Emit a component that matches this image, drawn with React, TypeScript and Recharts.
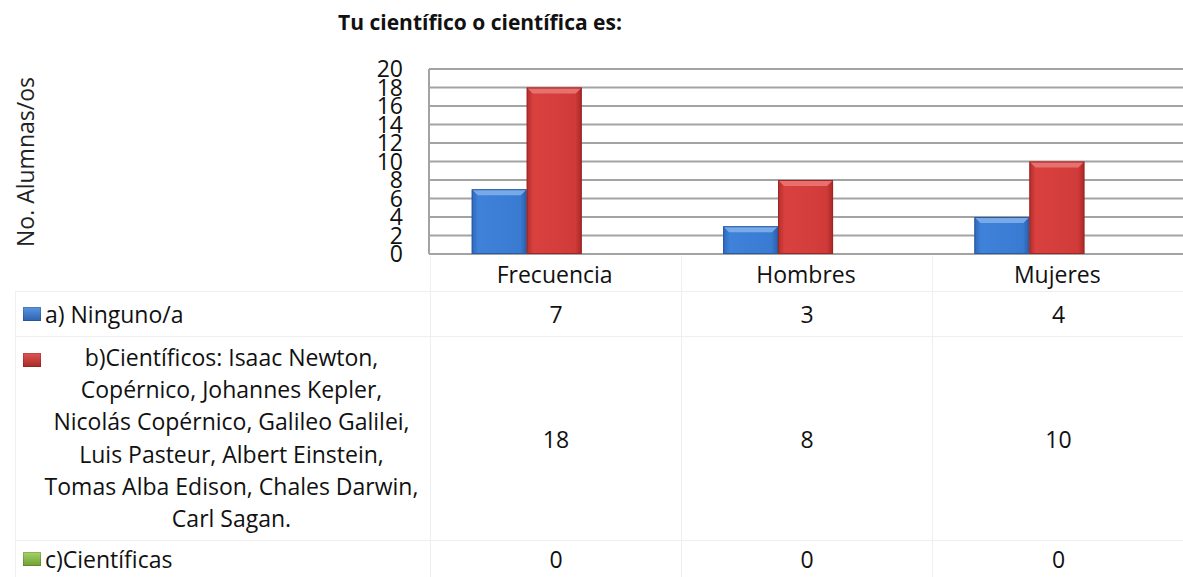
import React from 'react';
import { BarChart, Bar, XAxis, YAxis, CartesianGrid } from 'recharts';

document.body.style.margin = '0';

// data
const categories = ['Frecuencia', 'Hombres', 'Mujeres'];
const ninguno = [7, 3, 4];
const cientificos = [18, 8, 10];
const cientificas = [0, 0, 0];
const yTicks = [0, 2, 4, 6, 8, 10, 12, 14, 16, 18, 20];

const labelA = 'a) Ninguno/a';
const labelB = [
  'b)Científicos: Isaac Newton,',
  'Copérnico, Johannes Kepler,',
  'Nicolás Copérnico, Galileo Galilei,',
  'Luis Pasteur, Albert Einstein,',
  'Tomas Alba Edison, Chales Darwin,',
  'Carl Sagan.',
];
const labelC = 'c)Científicas';

const data = categories.map((name, i) => ({
  name,
  a: ninguno[i],
  b: cientificos[i],
  c: cientificas[i],
}));

const FONT = '"Open Sans", sans-serif';

const BevelBar = (props: any) => {
  const { x, y, width, height, gradId, light, dark } = props;
  if (!height || height <= 0) return null;
  const b = Math.min(6, height / 2);
  return (
    <g>
      <rect x={x} y={y} width={width} height={height} fill={`url(#${gradId})`} />
      <polygon
        points={`${x},${y} ${x + width},${y} ${x + width - b},${y + b} ${x + b},${y + b}`}
        fill={light}
      />
      <rect x={x + 0.5} y={y + 0.5} width={width - 1} height={height - 1} fill="none" stroke={dark} strokeWidth={1} />
    </g>
  );
};

const Key = ({ from, to }: { from: string; to: string }) => (
  <div
    style={{
      width: 18,
      height: 14,
      flex: '0 0 18px',
      background: `linear-gradient(180deg, ${from} 0%, ${to} 100%)`,
      boxShadow: 'inset 0 0 0 1px rgba(0,0,0,0.15)',
    }}
  />
);

const cell: React.CSSProperties = {
  background: '#fff',
  display: 'flex',
  alignItems: 'center',
  justifyContent: 'center',
  fontSize: 23,
  color: '#111',
};

export default function App() {
  return (
    <div style={{ position: 'relative', width: 1183, height: 577, background: '#fff', fontFamily: FONT, overflow: 'hidden' }}>
      <div
        style={{
          position: 'absolute',
          left: 480,
          top: 22,
          transform: 'translate(-50%, -50%)',
          fontWeight: 700,
          fontSize: 21,
          whiteSpace: 'nowrap',
          color: '#111',
        }}
      >
        Tu científico o científica es:
      </div>
      <div
        style={{
          position: 'absolute',
          left: 25,
          top: 162,
          transform: 'translate(-50%, -50%) rotate(-90deg)',
          fontSize: 23,
          whiteSpace: 'nowrap',
          color: '#222',
        }}
      >
        No. Alumnas/os
      </div>

      {/* faint column lines behind the category labels */}
      {[430, 681, 932].map((lx) => (
        <div key={lx} style={{ position: 'absolute', left: lx, top: 256, width: 1, height: 36, background: '#f0f0f0' }} />
      ))}

      <div style={{ position: 'absolute', left: 0, top: 0 }}>
        <BarChart
          width={1183}
          height={292}
          data={data}
          margin={{ top: 69, right: 0, bottom: 0, left: 369 }}
          barCategoryGap="17%"
          barGap={0}
        >
          <defs>
            <linearGradient id="gBlue" x1="0" y1="0" x2="1" y2="0">
              <stop offset="0%" stopColor="#2f67b8" />
              <stop offset="12%" stopColor="#3f82da" />
              <stop offset="88%" stopColor="#3a7bd2" />
              <stop offset="100%" stopColor="#2a5da8" />
            </linearGradient>
            <linearGradient id="gRed" x1="0" y1="0" x2="1" y2="0">
              <stop offset="0%" stopColor="#b32d2b" />
              <stop offset="12%" stopColor="#d9413f" />
              <stop offset="88%" stopColor="#d03b39" />
              <stop offset="100%" stopColor="#a82826" />
            </linearGradient>
            <linearGradient id="gGreen" x1="0" y1="0" x2="1" y2="0">
              <stop offset="0%" stopColor="#7bb03a" />
              <stop offset="100%" stopColor="#9acd52" />
            </linearGradient>
          </defs>
          <CartesianGrid vertical={false} stroke="#a3a3a3" strokeWidth={2} />
          <XAxis
            dataKey="name"
            axisLine={false}
            tickLine={false}
            tickSize={0}
            tickMargin={13}
            height={38}
            interval={0}
            tick={{ fontSize: 23, fill: '#111', fontFamily: FONT }}
          />
          <YAxis
            domain={[0, 20]}
            ticks={yTicks}
            interval={0}
            width={60}
            axisLine={{ stroke: '#a3a3a3', strokeWidth: 2 }}
            tickLine={false}
            tickSize={0}
            tickMargin={26}
            tick={{ fontSize: 23, fill: '#111', fontFamily: FONT }}
          />
          <Bar
            dataKey="a"
            isAnimationActive={false}
            shape={(p: any) => <BevelBar {...p} gradId="gBlue" light="#78aaea" dark="#2a5b9f" />}
          />
          <Bar
            dataKey="b"
            isAnimationActive={false}
            shape={(p: any) => <BevelBar {...p} gradId="gRed" light="#e8706e" dark="#9c2725" />}
          />
          <Bar
            dataKey="c"
            isAnimationActive={false}
            shape={(p: any) => <BevelBar {...p} gradId="gGreen" light="#b5dd7c" dark="#6a9a30" />}
          />
        </BarChart>
      </div>

      {/* data table */}
      <div
        style={{
          position: 'absolute',
          left: 15,
          top: 291,
          display: 'grid',
          gridTemplateColumns: '414px 250px 250px 251px',
          gridTemplateRows: '44px 203px 36px',
          gap: 1,
          padding: '1px 0 0 1px',
          background: '#efefef',
        }}
      >
        <div style={{ ...cell, justifyContent: 'flex-start', paddingLeft: 7 }}>
          <Key from="#5b95e0" to="#2c62b0" />
          <span style={{ marginLeft: 4 }}>{labelA}</span>
        </div>
        {ninguno.map((v, i) => (
          <div key={'a' + i} style={cell}>{v}</div>
        ))}

        <div style={{ ...cell, alignItems: 'flex-start', justifyContent: 'flex-start', paddingLeft: 7, paddingTop: 4 }}>
          <div style={{ marginTop: 12 }}>
            <Key from="#e05552" to="#a82a28" />
          </div>
          <div style={{ flex: 1, textAlign: 'center', lineHeight: '32.2px', paddingRight: 8 }}>
            {labelB.map((l) => (
              <div key={l} style={{ whiteSpace: 'nowrap' }}>{l}</div>
            ))}
          </div>
        </div>
        {cientificos.map((v, i) => (
          <div key={'b' + i} style={cell}>{v}</div>
        ))}

        <div style={{ ...cell, justifyContent: 'flex-start', paddingLeft: 7 }}>
          <Key from="#a6d468" to="#6f9e33" />
          <span style={{ marginLeft: 4 }}>{labelC}</span>
        </div>
        {cientificas.map((v, i) => (
          <div key={'c' + i} style={cell}>{v}</div>
        ))}
      </div>
    </div>
  );
}
